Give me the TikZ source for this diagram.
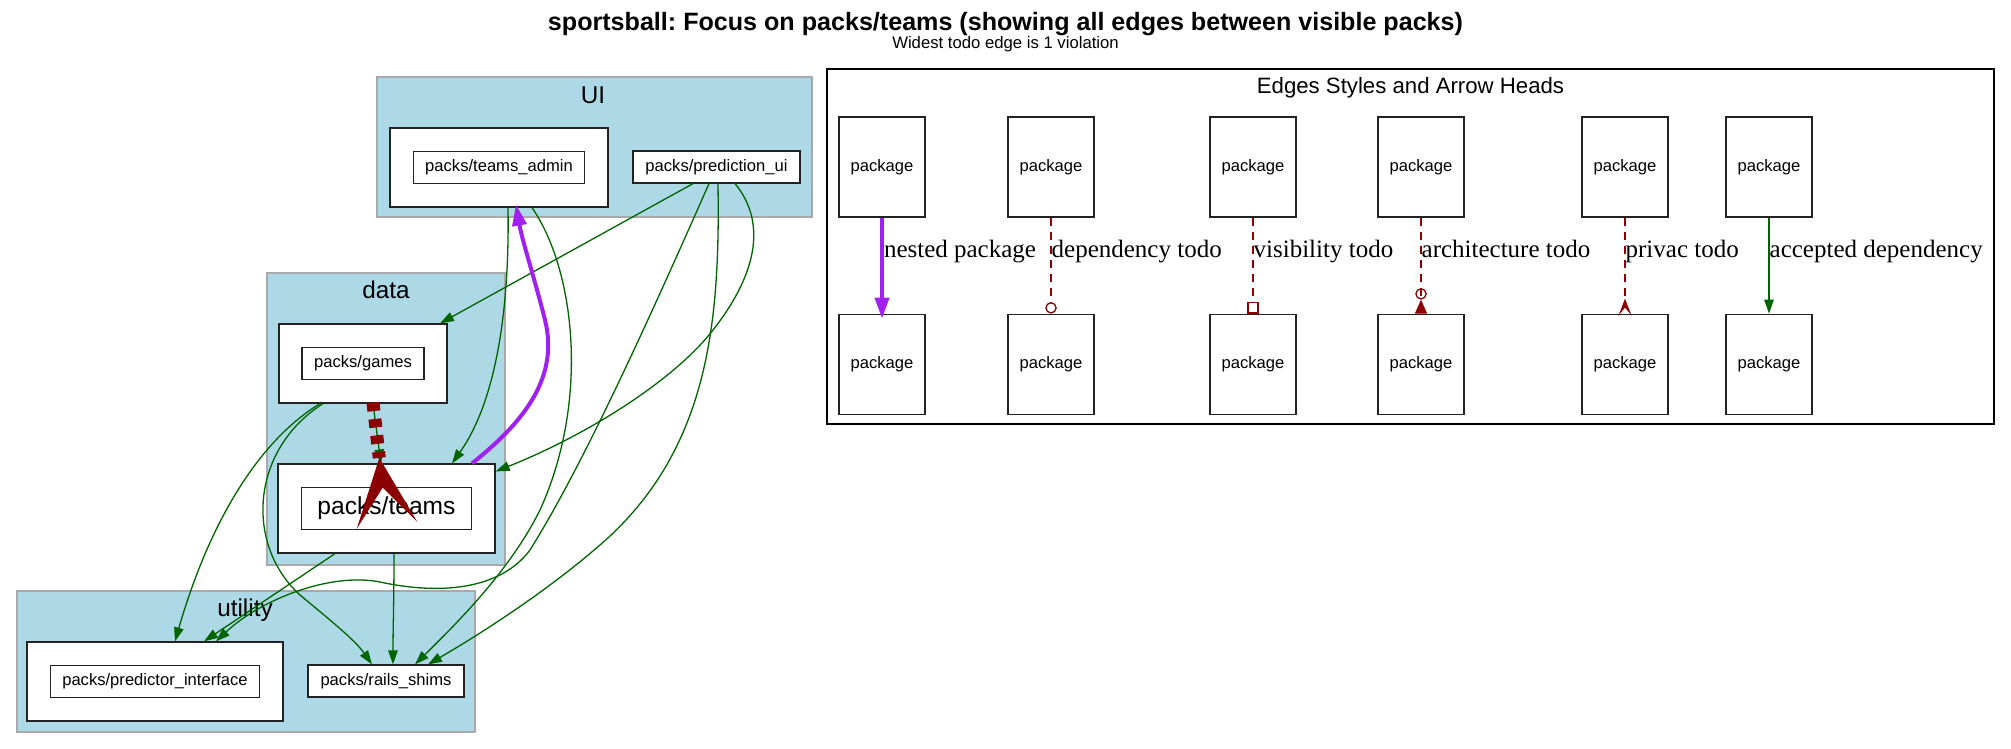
\documentclass[tikz,border=0pt]{standalone}
\usepackage{fontspec}
\setsansfont{Liberation Sans}
\newfontfamily\seriflabel{Liberation Serif}
\usetikzlibrary{arrows.meta, positioning}
\definecolor{cgreen}{HTML}{006400}
\definecolor{cred}{HTML}{8B0000}
\definecolor{cpurple}{HTML}{A020F0}
\definecolor{cblue}{HTML}{ADD8E6}
\definecolor{cgrey}{HTML}{A9A9A9}
\definecolor{cdark}{HTML}{222222}
\newcommand\pkgfont{\sffamily\fontsize{16.6}{20}\selectfont}
\newcommand\focusfont{\sffamily\fontsize{24.6}{29}\selectfont}
\newcommand\clusterfont{\sffamily\fontsize{24.3}{29}\selectfont}
\newcommand\legendfont{\sffamily\fontsize{22.2}{26}\selectfont}
\newcommand\edgefont{\seriflabel\fontsize{25}{30}\selectfont}
\frenchspacing
\tikzset{
  cluster/.style={draw=cgrey, fill=cblue, line width=1.5pt, inner sep=0pt},
  clabel/.style={font=\clusterfont, anchor=base, inner sep=0pt},
  nestbox/.style={draw=cdark, fill=white, line width=1.2pt, inner sep=0pt, minimum height=79pt},
  pkg/.style={draw=cdark, fill=white, line width=1.2pt, inner sep=0pt, minimum height=32pt, font=\pkgfont},
  legendpkg/.style={draw=cdark, line width=1.2pt, inner sep=0pt, minimum width=86pt, minimum height=100pt, font=\pkgfont},
  dep/.style={-{Triangle[length=14pt, width=9.5pt]}, draw=cgreen, line width=1.3pt},
  nested/.style={-{Triangle[length=21pt, width=14pt]}, draw=cpurple, line width=4pt},
  todo/.style={draw=cred, line width=1.3pt, dash pattern=on 8pt off 6pt},
  elabel/.style={font=\edgefont, anchor=base west, inner sep=0pt},
}
\begin{document}
\begin{tikzpicture}[x=1pt, y=-1pt]
  \useasboundingbox (0,0) rectangle (2011,748);
  \fill[white] (0,0) rectangle (2011,748);
  % heading
  \node[font=\sffamily\bfseries\fontsize{25.1}{30}\selectfont, anchor=base] (title) at (1005.5,30) {sportsball: Focus on packs/teams (showing all edges between visible packs)};
  \node[font=\sffamily\fontsize{16.7}{20}\selectfont, anchor=base] (subtitle) at (1005.5,48) {Widest todo edge is 1 violation};
  % layers
  \node[cluster, minimum width=435pt, minimum height=140pt] (uicl) at (594.5,147) {};
  \node[clabel] at (593,103) {UI};
  \node[cluster, minimum width=238pt, minimum height=292pt] (datacl) at (386,419) {};
  \node[clabel] at (386,298) {data};
  \node[cluster, minimum width=458pt, minimum height=141pt] (utilcl) at (246,661.5) {};
  \node[clabel] at (245,616) {utility};
  % packs
  \node[nestbox, minimum width=218pt] (tadminbox) at (499,167.5) {};
  \node[pkg, minimum width=171pt] (tadmin) at (tadminbox) {packs/teams\_admin};
  \node[pkg, minimum width=167pt] (predui) at (716.5,167) {packs/prediction\_ui};
  \node[nestbox, minimum width=168pt] (gamesbox) at (363,363.5) {};
  \node[pkg, minimum width=122pt] (games) at (gamesbox) {packs/games};
  \node[nestbox, minimum width=217pt, minimum height=89pt] (teamsbox) at (386.5,508.5) {};
  \node[pkg, minimum width=170pt, minimum height=42pt, font=\focusfont] (teams) at (teamsbox) {packs/teams};
  \node[nestbox, minimum width=256pt] (predifbox) at (155,681.5) {};
  \node[pkg, minimum width=209pt] (predif) at (predifbox) {packs/predictor\_interface};
  \node[pkg, minimum width=156pt] (shims) at (386,681) {packs/rails\_shims};
  % accepted dependencies
  \draw[dep] ([xshift=-23.5pt]predui.south) -- ([xshift=77pt]gamesbox.north);
  \draw[dep] ([xshift=18.5pt]predui.south) .. controls (765,220) and (760,270) .. (713,330) .. controls (671,384) and (580,438) .. ([yshift=-8pt]teamsbox.north east);
  \draw[dep] ([xshift=1.5pt]predui.south) .. controls (720,320) and (710,450) .. (600,545) .. controls (540,597) and (470,640) .. ([xshift=42pt]shims.north);
  \draw[dep] ([xshift=-7.5pt]predui.south) .. controls (640,340) and (580,470) .. (530,550) .. controls (500,590) and (440,595) .. (380,582) .. controls (330,572) and (260,600) .. ([xshift=61pt]predifbox.north);
  \draw[dep] ([xshift=9pt]tadminbox.south) .. controls (510,330) and (490,410) .. ([xshift=65.5pt]teamsbox.north);
  \draw[dep] ([xshift=33pt]tadminbox.south) .. controls (575,270) and (590,400) .. (540,510) .. controls (510,570) and (460,620) .. ([xshift=29pt]shims.north);
  \draw[dep] ([xshift=10pt]gamesbox.south) -- ([xshift=-5.5pt]teamsbox.north);
  \draw[dep] ([xshift=-43pt]gamesbox.south) .. controls (260,440) and (210,520) .. ([xshift=20pt]predifbox.north);
  \draw[dep] ([xshift=-40pt]gamesbox.south) .. controls (250,450) and (245,545) .. (300,595) .. controls (330,620) and (355,640) .. ([xshift=-14pt]shims.north);
  \draw[dep] ([xshift=-51.5pt]teamsbox.south) -- ([xshift=49pt]predifbox.north);
  \draw[dep] ([xshift=7.5pt]teamsbox.south) .. controls (394,600) and (393,630) .. ([xshift=7pt]shims.north);
  % nested package
  \draw[nested] ([xshift=85.5pt]teamsbox.north) .. controls (520,425) and (560,380) .. (545,320) .. controls (535,280) and (522,240) .. ([xshift=17pt, yshift=3pt]tadminbox.south);
  % the one todo edge
  \draw[todo, line width=13pt, dash pattern=on 8.5pt off 8pt, -{Stealth[reversed, length=68pt, width=61pt, inset=38pt, line width=0pt]}] ([xshift=10pt, yshift=1pt]gamesbox.south) -- ([xshift=0.5pt, yshift=-62pt]teamsbox.north);
  % legend
  \node[draw, line width=1.3pt, inner sep=0pt, minimum width=1167pt, minimum height=355pt] (legend) at (1410.5,246.5) {};
  \node[font=\legendfont, anchor=base] (legendtitle) at (1410.5,93) {Edges Styles and Arrow Heads};
  \foreach \x [count=\i] in {882,1051,1253,1421,1625,1769} {
    \node[legendpkg] (lgtop\i) at (\x,167) {package};
    \node[legendpkg, below=96pt of lgtop\i] (lgbot\i) {package};
  }
  \draw[nested] (lgtop1.south) node[elabel, yshift=-40pt] {nested package} -- ([yshift=-5pt]lgbot1.north);
  \draw[todo, -{Circle[open, length=11.5pt]}] (lgtop2.south) node[elabel, yshift=-40pt] {dependency todo} -- (lgbot2.north);
  \draw[todo, -{Square[open, length=11.5pt]}] (lgtop3.south) node[elabel, yshift=-40pt] {visibility todo} -- (lgbot3.north);
  \draw[todo, -{Circle[open, length=11.5pt] Triangle[reversed, length=14pt, width=12pt]}] (lgtop4.south) node[elabel, yshift=-40pt] {architecture todo} -- (lgbot4.north);
  \draw[todo, -{Stealth[reversed, length=17pt, width=13pt, inset=8pt]}] (lgtop5.south) node[elabel, yshift=-40pt] {privac todo} -- ([yshift=-2pt]lgbot5.north);
  \draw[dep] (lgtop6.south) node[elabel, yshift=-40pt] {accepted dependency} -- (lgbot6.north);
\end{tikzpicture}
\end{document}
